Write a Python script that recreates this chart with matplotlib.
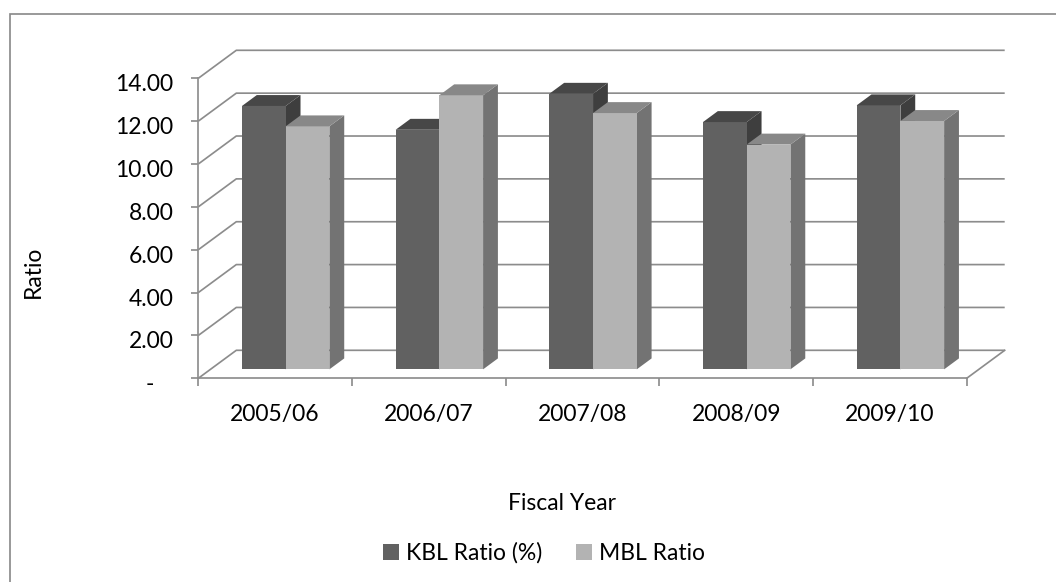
import matplotlib
matplotlib.use("Agg")
import matplotlib.pyplot as plt
from matplotlib.patches import Polygon, Patch, Rectangle

# ---- data -------------------------------------------------------------
years = ["2005/06", "2006/07", "2007/08", "2008/09", "2009/10"]
kbl_ratio = [12.29, 11.18, 12.86, 11.54, 12.32]
mbl_ratio = [11.34, 12.79, 11.96, 10.49, 11.59]
series_names = ["KBL Ratio (%)", "MBL Ratio"]
y_ticks = [0, 2, 4, 6, 8, 10, 12, 14]
y_tick_labels = ["-", "2.00", "4.00", "6.00", "8.00", "10.00", "12.00", "14.00"]

# ---- styling ----------------------------------------------------------
FONT = "Lato"
FS = 16.5
GRID = "#8c8c8c"
FACE = {"front": ["#616161", "#b3b3b3"],
        "top": ["#474747", "#888888"],
        "side": ["#3e3e3e", "#737373"]}

W, H = 1056, 582
DPI = 100
PX = 72.0 / DPI  # points per pixel

fig = plt.figure(figsize=(W / DPI, H / DPI), dpi=DPI)
fig.patch.set_facecolor("white")

# front plane of the plot area (pixel box)
L, R, T, B = 198.3, 966.7, 78.3, 378.3
ax = fig.add_axes([L / W, (H - B) / H, (R - L) / W, (B - T) / H])
ncat = len(years)
ax.set_xlim(0, ncat)
ax.set_ylim(0, 14)
ax.set_facecolor("none")

# oblique depth vector, expressed in data units
DEPTH_PX = (38.0, 28.0)
ddx = DEPTH_PX[0] / ((R - L) / ncat)
ddy = DEPTH_PX[1] / ((B - T) / 14.0)


def proj(x, v, d):
    return (x + d * ddx, v + d * ddy)


LW = 1.7 * PX

# walls / floor gridlines
for v in y_ticks:
    pts = [proj(0, v, 0), proj(0, v, 1), proj(ncat, v, 1)]
    ax.plot([p[0] for p in pts], [p[1] for p in pts], color=GRID, lw=LW,
            clip_on=False, zorder=1, solid_capstyle="butt")
p0, p1 = proj(ncat, 0, 0), proj(ncat, 0, 1)
ax.plot([p0[0], p1[0]], [p0[1], p1[1]], color=GRID, lw=LW, clip_on=False, zorder=1)

# bars: front face via ax.bar, top and side faces as polygons
D0, DD = 0.32, 0.39
GAP = 0.205
BW = 0.2845
for i in range(ncat):
    for s, vals in enumerate([kbl_ratio, mbl_ratio]):
        v = vals[i]
        x0 = i + GAP + s * BW
        x1 = x0 + BW
        z = 3 + i * 2 + s * 0.5
        fx, fy = proj(x0, 0, D0)
        ax.bar(fx, v, width=BW, bottom=fy, align="edge",
               color=FACE["front"][s], linewidth=0, zorder=z, clip_on=False)
        top = [proj(x0, v, D0), proj(x1, v, D0), proj(x1, v, D0 + DD), proj(x0, v, D0 + DD)]
        side = [proj(x1, 0, D0), proj(x1, 0, D0 + DD), proj(x1, v, D0 + DD), proj(x1, v, D0)]
        ax.add_patch(Polygon(top, closed=True, facecolor=FACE["top"][s], lw=0,
                             zorder=z, clip_on=False))
        ax.add_patch(Polygon(side, closed=True, facecolor=FACE["side"][s], lw=0,
                             zorder=z - 0.1, clip_on=False))

# axes lines and ticks
for name in ("top", "right"):
    ax.spines[name].set_visible(False)
for name in ("left", "bottom"):
    ax.spines[name].set_color(GRID)
    ax.spines[name].set_linewidth(LW)
ax.set_xticks(range(ncat + 1))
ax.set_xticklabels([])
ax.set_yticks(y_ticks)
ax.set_yticklabels([])
ax.tick_params(axis="x", direction="out", length=8 * PX, width=LW, color=GRID)
ax.tick_params(axis="y", direction="out", length=7 * PX, width=LW, color=GRID)

# tick labels
for v, lab in zip(y_ticks, y_tick_labels):
    off = -25 if lab != "-" else -44
    ax.annotate(lab, xy=(0, v), xycoords=("axes fraction", "data"),
                xytext=(off * PX, -6.5 * PX), textcoords="offset points",
                ha="right", va="center", fontsize=FS, family=FONT, color="#000000")
for i, lab in enumerate(years):
    ax.annotate(lab, xy=(i + 0.5, 0), xycoords=("data", "axes fraction"),
                xytext=(0, -36 * PX), textcoords="offset points",
                ha="center", va="center", fontsize=FS, family=FONT, color="#000000")

# axis titles
fig.text(33 / W, 1 - 272 / H, "Ratio", rotation=90, ha="center", va="center",
         fontsize=FS, family=FONT)
fig.text(562.5 / W, 1 - 503 / H, "Fiscal Year", ha="center", va="center",
         fontsize=FS, family=FONT)

# legend
handles = [Patch(facecolor=FACE["front"][k], edgecolor="none", label=series_names[k])
           for k in range(2)]
fig.legend(handles=handles, loc="center", bbox_to_anchor=(544 / W, 1 - 553 / H),
           ncol=2, frameon=False, prop={"family": FONT, "size": FS},
           handlelength=0.7, handleheight=0.7, handletextpad=0.3,
           columnspacing=1.5, borderpad=0, borderaxespad=0)

# chart-area border
fig.patches.append(Rectangle((9.5 / W, -0.05), 1.1, 1 - 13.5 / H + 0.05,
                             transform=fig.transFigure, fill=False,
                             edgecolor="#8a8a8a", lw=LW))

fig.savefig("out.png", dpi=DPI)
